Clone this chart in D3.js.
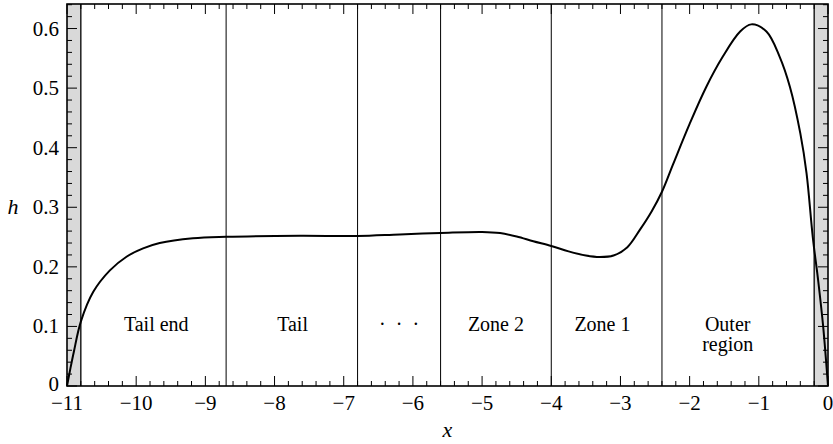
<!DOCTYPE html>
<html lang='en'>
<head>
<meta charset='utf-8'/>
<title>h against x</title>
<script src='https://d3js.org/d3.v7.min.js'></script>
<style>
  body { margin: 0; background: #fff; }
</style>
</head>
<body>
<script>
'use strict'
// curve: x position and h value
const xs = [-11, -10.95, -10.9, -10.8, -10.62, -10.38, -10.14, -9.9, -9.66, -9.18, -8.7, -7.63, -6.8, -6.19, -5.6, -5.0, -4.74, -4.5, -4.26, -4.0, -3.75, -3.5, -3.3, -3.1, -2.9, -2.72, -2.55, -2.4, -2.24, -2.0, -1.76, -1.52, -1.27, -1.11, -0.89, -0.70, -0.55, -0.40, -0.31, -0.22, -0.14, -0.07, 0]
const hs = [0, 0.03, 0.058, 0.108, 0.158, 0.194, 0.217, 0.231, 0.240, 0.248, 0.2505, 0.2522, 0.2518, 0.2545, 0.2568, 0.2585, 0.2567, 0.251, 0.243, 0.235, 0.226, 0.219, 0.2165, 0.219, 0.233, 0.262, 0.293, 0.326, 0.372, 0.44, 0.502, 0.553, 0.595, 0.607, 0.595, 0.553, 0.502, 0.424, 0.357, 0.25, 0.175, 0.1, 0]

const zoneBounds = [-8.7, -6.8, -5.6, -4.0, -2.4]
const bandEdges = [-10.8, -0.2]
const zoneLabels = [['Tail end'], ['Tail'], ['\u00b7  \u00b7  \u00b7'], ['Zone 2'], ['Zone 1'], ['Outer', 'region']]
const zoneLabelX = [-9.71, -7.74, -6.2, -4.8, -3.26, -1.45]
const zoneLabelH = 0.092

const xTicks = d3.range(-11, 0.5, 1)
const yTicks = [0, 0.1, 0.2, 0.3, 0.4, 0.5, 0.6]

const W = 833, H = 444
const FONT = 'Liberation Serif, Tinos, Times New Roman, Times, Nimbus Roman, Nimbus Roman No9 L, FreeSerif, Noto Serif, DejaVu Serif, serif'
const margin = {top: 4, right: 5, bottom: 58, left: 67}
const x = d3.scaleLinear().domain([-11, 0]).range([margin.left, W - margin.right])
const y = d3.scaleLinear().domain([0, 0.6412]).range([H - margin.bottom, margin.top])

const svg = d3.select('body').append('svg')
  .attr('width', W)
  .attr('height', H)
  .style('font-family', FONT)

// grey bands at both ends
svg.append('rect')
  .attr('x', x(-11)).attr('y', y.range()[1])
  .attr('width', x(bandEdges[0]) - x(-11)).attr('height', y(0) - y.range()[1])
  .attr('fill', '#d9d9d9')
svg.append('rect')
  .attr('x', x(bandEdges[1])).attr('y', y.range()[1])
  .attr('width', x(0) - x(bandEdges[1])).attr('height', y(0) - y.range()[1])
  .attr('fill', '#d9d9d9')

svg.selectAll('line.band')
  .data(bandEdges)
  .join('line')
  .attr('class', 'band')
  .attr('x1', d => x(d)).attr('x2', d => x(d))
  .attr('y1', y.range()[0]).attr('y2', y.range()[1])
  .attr('stroke', '#000').attr('stroke-width', 1.3)

svg.selectAll('line.zone')
  .data(zoneBounds)
  .join('line')
  .attr('class', 'zone')
  .attr('x1', d => x(d)).attr('x2', d => x(d))
  .attr('y1', y.range()[0]).attr('y2', y.range()[1])
  .attr('stroke', '#000').attr('stroke-width', 1)

// zone labels
zoneLabels.forEach(function(lines, i) {
  const t = svg.append('text')
    .attr('text-anchor', 'middle')
    .attr('font-size', 20)
    .style('white-space', 'pre')
    .attr('x', x(zoneLabelX[i]))
    .attr('y', y(zoneLabelH))
  lines.forEach(function(s, j) {
    t.append('tspan')
      .attr('x', x(zoneLabelX[i]))
      .attr('dy', j === 0 ? 0 : 19.5)
      .text(s)
  })
})

// the curve
const line = d3.line()
  .x(d => x(d[0]))
  .y(d => y(d[1]))
  .curve(d3.curveCatmullRom.alpha(0.5))

svg.append('path')
  .datum(xs.map((v, i) => [v, hs[i]]))
  .attr('d', line)
  .attr('fill', 'none')
  .attr('stroke', '#000')
  .attr('stroke-width', 2)

// ticks pointing inward, on all four sides
const xMinor = d3.range(-11, 0.001, 0.2).map(v => Math.round(v * 10) / 10)
const yMinor = d3.range(0, 0.641, 0.02).map(v => Math.round(v * 100) / 100)
const isMajorX = v => Math.abs(v - Math.round(v)) < 1e-6
const isMajorY = v => Math.abs(v * 10 - Math.round(v * 10)) < 1e-6
const tl = v => v ? 10 : 5

const ticks = svg.append('g').attr('stroke', '#000').attr('stroke-width', 1)
ticks.selectAll('line.bx').data(xMinor).join('line')
  .attr('x1', d => x(d)).attr('x2', d => x(d))
  .attr('y1', y(0)).attr('y2', d => y(0) - tl(isMajorX(d)))
ticks.selectAll('line.tx').data(xMinor).join('line')
  .attr('x1', d => x(d)).attr('x2', d => x(d))
  .attr('y1', y.range()[1]).attr('y2', d => y.range()[1] + tl(isMajorX(d)))
ticks.selectAll('line.ly').data(yMinor).join('line')
  .attr('y1', d => y(d)).attr('y2', d => y(d))
  .attr('x1', x(-11)).attr('x2', d => x(-11) + tl(isMajorY(d)))
ticks.selectAll('line.ry').data(yMinor).join('line')
  .attr('y1', d => y(d)).attr('y2', d => y(d))
  .attr('x1', x(0)).attr('x2', d => x(0) - tl(isMajorY(d)))

// frame
svg.append('rect')
  .attr('x', x(-11)).attr('y', y.range()[1])
  .attr('width', x(0) - x(-11)).attr('height', y(0) - y.range()[1])
  .attr('fill', 'none').attr('stroke', '#000').attr('stroke-width', 1.6)

// tick labels
const fmtX = v => v === 0 ? '0' : '\u2212' + Math.abs(v)
svg.selectAll('text.xt').data(xTicks).join('text')
  .attr('class', 'xt')
  .attr('text-anchor', 'middle')
  .attr('font-size', 21)
  .attr('x', d => x(d))
  .attr('y', y(0) + 24)
  .text(fmtX)

svg.selectAll('text.yt').data(yTicks).join('text')
  .attr('class', 'yt')
  .attr('text-anchor', 'end')
  .attr('font-size', 21)
  .attr('x', x(-11) - 8)
  .attr('y', d => y(d) + (d === 0 ? 5 : 7))
  .text(d => d === 0 ? '0' : d3.format('.1f')(d))

// axis titles
svg.append('text')
  .attr('text-anchor', 'middle')
  .attr('font-size', 22)
  .attr('font-style', 'italic')
  .attr('x', (x(-11) + x(0)) / 2)
  .attr('y', H - 7)
  .text('x')

svg.append('text')
  .attr('text-anchor', 'middle')
  .attr('font-size', 22)
  .attr('font-style', 'italic')
  .attr('x', 13)
  .attr('y', y(0.3) + 7)
  .text('h')
</script>
</body>
</html>
